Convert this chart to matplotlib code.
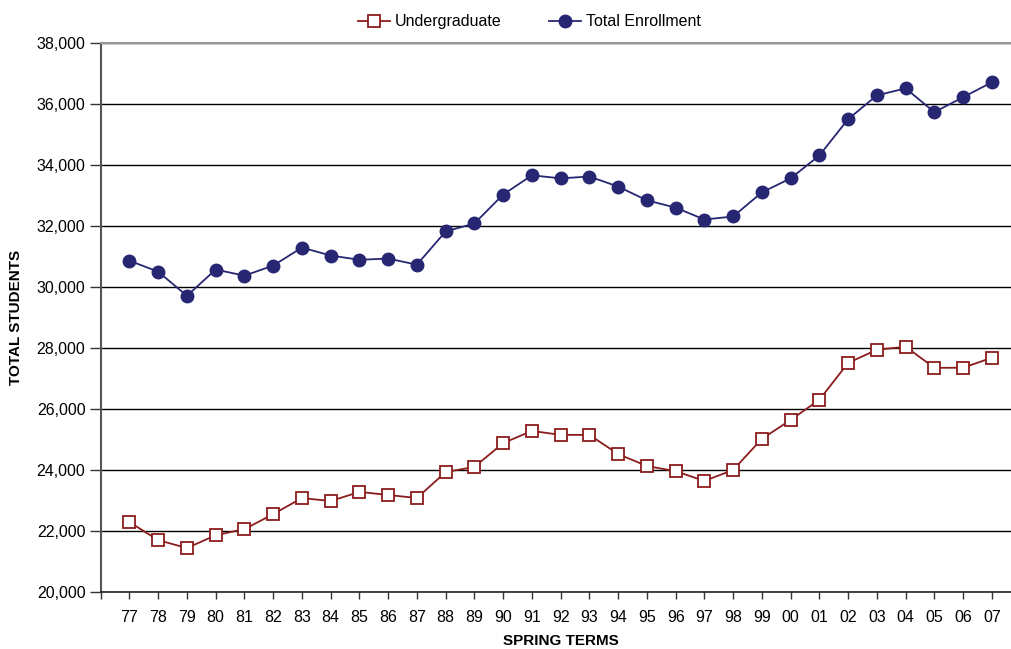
import matplotlib.pyplot as plt
from matplotlib.ticker import FuncFormatter

terms = ["77", "78", "79", "80", "81", "82", "83", "84", "85", "86", "87",
         "88", "89", "90", "91", "92", "93", "94", "95", "96", "97", "98",
         "99", "00", "01", "02", "03", "04", "05", "06", "07"]

undergrad = [22300, 21710, 21450, 21870, 22070, 22560, 23090, 22990, 23290,
             23190, 23090, 23940, 24110, 24890, 25290, 25160, 25160, 24530,
             24140, 23970, 23650, 24010, 25030, 25650, 26310, 27520, 27950,
             28050, 27360, 27360, 27690]

total = [30870, 30510, 29720, 30580, 30380, 30710, 31300, 31040, 30900,
         30940, 30740, 31830, 32090, 33040, 33670, 33570, 33630, 33300,
         32850, 32610, 32220, 32320, 33110, 33570, 34320, 35510, 36290,
         36520, 35740, 36230, 36720]

plt.rcParams['font.family'] = ['Liberation Sans', 'DejaVu Sans']

fig = plt.figure(figsize=(10.12, 6.49), dpi=100)
ax = fig.add_axes([0.0995, 0.0874, 0.909, 0.846])

x = list(range(len(terms)))
ax.plot(x, undergrad, color='#8b1c1c', lw=1.3, marker='s', ms=8.5,
        mfc='white', mec='#8b1c1c', mew=1.3, label='Undergraduate', zorder=3)
ax.plot(x, total, color='#262673', lw=1.3, marker='o', ms=9,
        mfc='#262673', mec='#262673', label='Total Enrollment', zorder=3)

ax.set_xlim(-1, len(terms))
ax.set_ylim(20000, 38000)
ax.set_yticks(range(20000, 38001, 2000))
ax.yaxis.set_major_formatter(FuncFormatter(lambda v, p: f"{int(v):,}"))
ax.set_xticks(x)
ax.set_xticklabels(terms)
ax.set_xticks([-1], minor=True)
ax.tick_params(axis='x', which='both', length=5, width=1, color='#333333',
               labelsize=11.5, pad=8)
ax.tick_params(axis='y', length=8, width=1, color='#333333', labelsize=11.5, pad=3)

ax.grid(axis='y', color='black', lw=1)
ax.set_axisbelow(True)
ax.spines['right'].set_visible(False)
ax.spines['top'].set_color('#999999')
ax.spines['top'].set_linewidth(1.5)
ax.spines['left'].set_color('#555555')
ax.spines['left'].set_linewidth(1.5)
ax.spines['bottom'].set_color('#222222')
ax.spines['bottom'].set_linewidth(1.2)

ax.set_xlabel("SPRING TERMS", fontsize=11, fontweight='bold', labelpad=6)
ax.set_ylabel("TOTAL STUDENTS", fontsize=11, fontweight='bold', labelpad=10)

fig.legend(loc='upper center', bbox_to_anchor=(0.523, 1.0), ncol=2,
           frameon=False, fontsize=11.5, handlelength=2.0, columnspacing=3.0,
           handletextpad=0.3)

fig.savefig("out.png", dpi=100)
plt.close()
